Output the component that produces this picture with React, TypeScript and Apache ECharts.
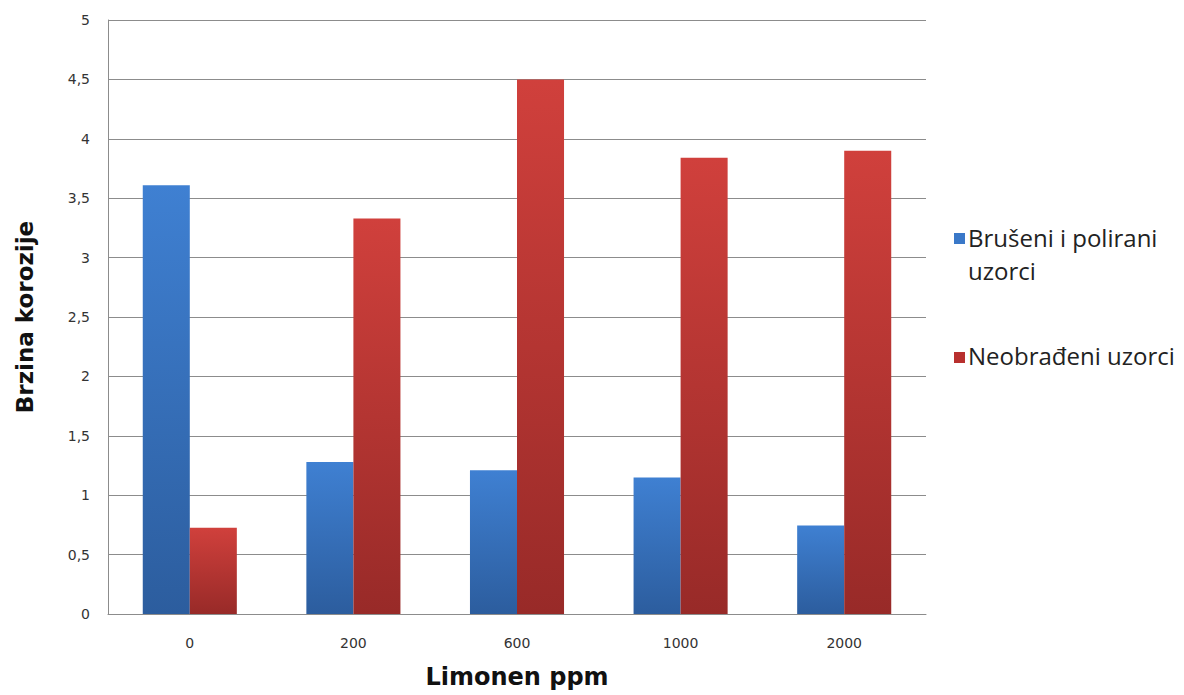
import React, { useEffect, useRef } from "react";
import * as echarts from "echarts";

const categories = ["0", "200", "600", "1000", "2000"];
const seriesNames = ["Brušeni i polirani uzorci", "Neobrađeni uzorci"];
const polishedValues = [3.61, 1.28, 1.21, 1.15, 0.745];
const untreatedValues = [0.725, 3.33, 4.5, 3.84, 3.9];
const yTickLabels = ["0", "0,5", "1", "1,5", "2", "2,5", "3", "3,5", "4", "4,5", "5"];

const blueGrad = new echarts.graphic.LinearGradient(0, 0, 0, 1, [
  { offset: 0, color: "#3f80d2" },
  { offset: 1, color: "#2c5d9e" },
]);
const redGrad = new echarts.graphic.LinearGradient(0, 0, 0, 1, [
  { offset: 0, color: "#d0403c" },
  { offset: 1, color: "#982a28" },
]);

export default function App() {
  const ref = useRef<HTMLDivElement>(null);
  useEffect(() => {
    if (!ref.current) return;
    const chart = echarts.init(ref.current, null, { renderer: "svg" });
    chart.setOption({
      animation: false,
      backgroundColor: "#ffffff",
      grid: { left: 108, right: 258, top: 20, bottom: 81 },
      xAxis: {
        type: "category",
        data: categories,
        name: "Limonen ppm",
        nameLocation: "middle",
        nameGap: 51,
        nameTextStyle: { fontFamily: "DejaVu Sans", fontWeight: "bold", fontSize: 24, color: "#111" },
        axisLine: { lineStyle: { color: "#8c8c8c", width: 1 } },
        axisTick: { show: false },
        axisLabel: { fontFamily: "DejaVu Sans", fontSize: 14, color: "#333", margin: 22 },
      },
      yAxis: {
        type: "value",
        min: 0,
        max: 5,
        interval: 0.5,
        name: "Brzina korozije",
        nameLocation: "middle",
        nameGap: 72,
        nameTextStyle: { fontFamily: "DejaVu Sans", fontWeight: "bold", fontSize: 23, color: "#111" },
        axisLine: { show: true, lineStyle: { color: "#8c8c8c", width: 1 } },
        axisTick: { show: false },
        splitLine: { lineStyle: { color: "#8c8c8c", width: 1 } },
        axisLabel: {
          fontFamily: "DejaVu Sans",
          fontSize: 14,
          color: "#333",
          margin: 18,
          formatter: (v: number) => yTickLabels[Math.round(v * 2)] ?? String(v),
        },
      },
      series: [
        {
          name: seriesNames[0],
          type: "bar",
          data: polishedValues,
          barGap: "0%",
          barCategoryGap: "42.5%",
          itemStyle: { color: blueGrad },
        },
        {
          name: seriesNames[1],
          type: "bar",
          data: untreatedValues,
          barGap: "0%",
          barCategoryGap: "42.5%",
          itemStyle: { color: redGrad },
        },
      ],
      graphic: [
        { type: "rect", left: 954, top: 233, shape: { width: 11, height: 11 }, style: { fill: "#3a78c8" } },
        {
          type: "text",
          left: 968,
          top: 221,
          style: {
            text: "Brušeni i polirani\nuzorci",
            font: "24px 'Open Sans'",
            fill: "#222",
            lineHeight: 33,
          },
        },
        { type: "rect", left: 954, top: 352, shape: { width: 11, height: 11 }, style: { fill: "#b8302e" } },
        {
          type: "text",
          left: 968,
          top: 339,
          style: { text: "Neobrađeni uzorci", font: "24px 'Open Sans'", fill: "#222", lineHeight: 33 },
        },
      ],
    });
    return () => chart.dispose();
  }, []);
  return (
    <div
      ref={ref}
      style={{ position: "fixed", left: 0, top: 0, width: 1184, height: 695 }}
    />
  );
}
